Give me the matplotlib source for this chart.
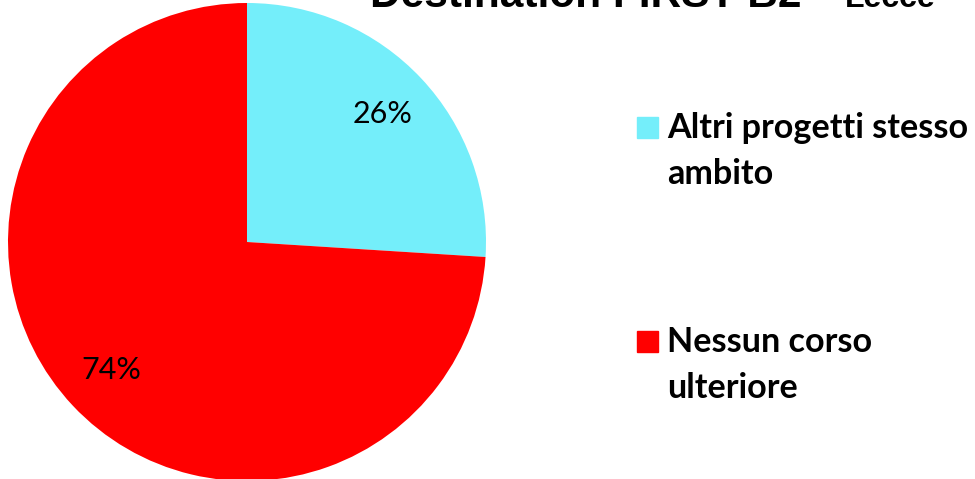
import matplotlib.pyplot as plt
from matplotlib.patches import Rectangle

labels = ['Altri progetti stesso\nambito', 'Nessun corso\nulteriore']
values = [26, 74]
colors = ['#74EEFA', '#FF0000']
title_main = 'Destination FIRST B2'
title_sub = 'Lecce'

W, H = 975, 479
fig = plt.figure(figsize=(W / 100, H / 100), dpi=100)
ax = fig.add_axes([0, 0, 1, 1])

ax.pie(
    values,
    colors=colors,
    startangle=90,
    counterclock=False,
    center=(247, H - 242),
    radius=239,
    autopct='%d%%',
    pctdistance=0.78,
    textprops={'fontsize': 22, 'family': 'Lato', 'color': 'black'},
    frame=True,
)
ax.set_xlim(0, W)
ax.set_ylim(0, H)
ax.set_aspect('equal')
ax.axis('off')

# legend drawn by hand, in pixel coordinates
leg_y = [H - 127, H - 341]
for y, c, lab in zip(leg_y, colors, labels):
    ax.add_patch(Rectangle((637, y - 10.5), 21, 21, color=c, clip_on=False))
    ax.text(667, y + 15, lab, fontsize=24.6, fontweight='bold', family='Lato',
            va='top', ha='left', linespacing=1.55)

# title, cut at the top edge as in the original
ax.text(370, H - 7, title_main + ' \u2013', fontsize=30.5, fontweight='bold',
        family='Liberation Sans', va='baseline', ha='left', clip_on=True)
ax.text(845, H - 7, title_sub, fontsize=23, fontweight='bold',
        family='Liberation Sans', va='baseline', ha='left', clip_on=True)

fig.savefig('out.png', dpi=100)
